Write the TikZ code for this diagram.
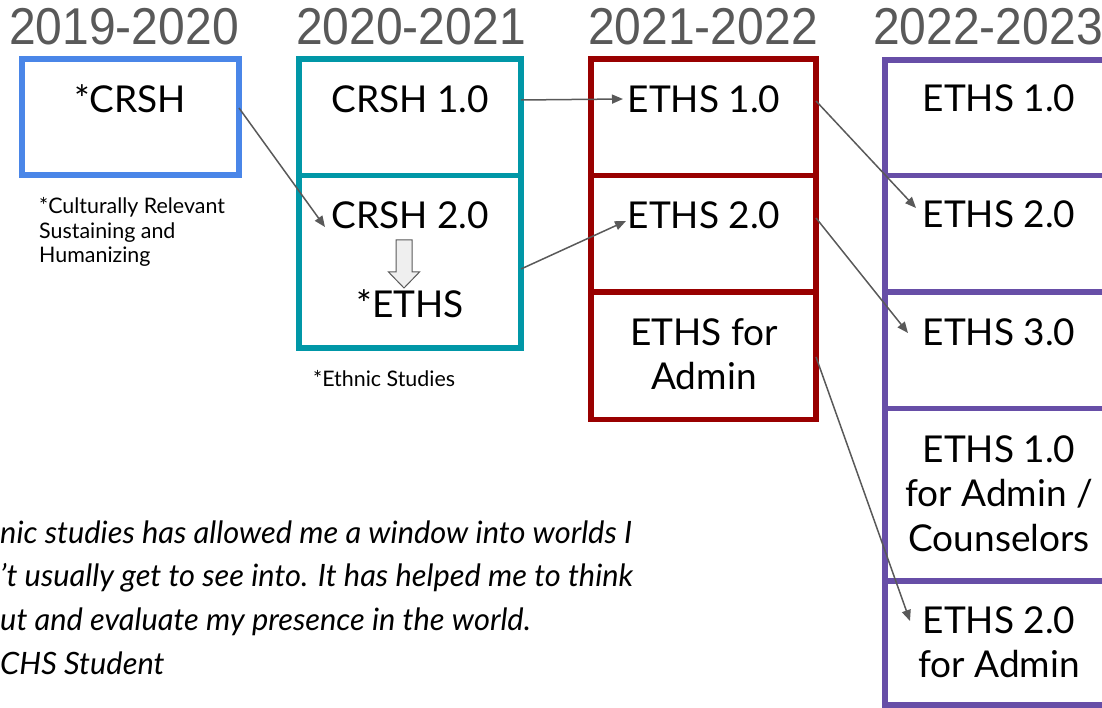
\documentclass[tikz,border=0pt]{standalone}
\usepackage{fontspec}
\setmainfont{Lato}
\newfontfamily\headfont{Liberation Sans}
\usetikzlibrary{arrows.meta}
\definecolor{cblue}{HTML}{4A86E8}
\definecolor{cteal}{HTML}{0097A7}
\definecolor{cred}{HTML}{990000}
\definecolor{cpurple}{HTML}{674EA7}
\definecolor{cgray}{HTML}{595959}
\definecolor{cfill}{HTML}{EFEFEF}
\begin{document}
\begin{tikzpicture}[x=1pt,y=-1pt,
  cellbox/.style={draw, line width=5.5pt, outer sep=0pt, inner sep=0pt},
  bluecell/.style={cellbox, draw=cblue, minimum width=217pt},
  tealcell/.style={cellbox, draw=cteal, minimum width=222pt},
  redcell/.style={cellbox, draw=cred, minimum width=225pt},
  purplecell/.style={cellbox, draw=cpurple, minimum width=228pt},
  big/.style={font=\fontsize{37}{44.5}\selectfont, inner sep=0pt, anchor=base},
  head/.style={font=\headfont\fontsize{48}{56}\selectfont, text=cgray, inner sep=0pt, anchor=base},
  note/.style={font=\fontsize{21.4}{24.5}\selectfont, inner sep=0pt, anchor=base west},
  quotetext/.style={font=\itshape\fontsize{30.8}{43.7}\selectfont, inner sep=0pt, anchor=base west},
  conn/.style={draw=cgray, line width=1.5pt, -{Triangle[length=11pt,width=9pt]}}
]
\useasboundingbox (0,0) rectangle (1102,708);
\clip (0,0) rectangle (1102,708);

% headings
\node[head] (h1) at (124,45) {\scalebox{1}[1.08]{2019-2020}};
\node[head] (h2) at (411,45) {\scalebox{1}[1.08]{2020-2021}};
\node[head] (h3) at (703,45) {\scalebox{1}[1.08]{2021-2022}};
\node[head] (h4) at (988,45) {\scalebox{1}[1.08]{2022-2023}};

% boxes
\node[bluecell, minimum height=116pt] (blue) at (130.5,117) {};
\node[tealcell, minimum height=116.5pt] (teal1) at (410,117.25) {};
\node[tealcell, minimum height=172.5pt] (teal2) at (410,261.75) {};
\node[redcell, minimum height=116.5pt] (red1) at (703.5,117.25) {};
\node[redcell, minimum height=116.5pt] (red2) at (703.5,233.75) {};
\node[redcell, minimum height=127.5pt] (red3) at (703.5,355.75) {};
\node[purplecell, minimum height=115.5pt] (p1) at (999,117.75) {};
\node[purplecell, minimum height=116.5pt] (p2) at (999,233.75) {};
\node[purplecell, minimum height=116.5pt] (p3) at (999,350.25) {};
\node[purplecell, minimum height=172.5pt] (p4) at (999,494.75) {};
\node[purplecell, minimum height=124pt] (p5) at (999,643) {};

% box texts
\node[big] (tcrsh) at (130,113) {*CRSH};
\node[big] (tcrsh1) at (410,113) {CRSH 1.0};
\node[big] (tcrsh2) at (410,229) {CRSH 2.0};
\node[big] (tstar) at (410,318) {*ETHS};
\node[big] (tr1) at (704,113) {ETHS 1.0};
\node[big] (tr2) at (704,229) {ETHS 2.0};
\node[big] (tr3) at (704,345) {\begin{tabular}[t]{@{}c@{}}ETHS for\\Admin\end{tabular}};
\node[big] (tp1) at (999,112) {ETHS 1.0};
\node[big] (tp2) at (999,228) {ETHS 2.0};
\node[big] (tp3) at (999,345) {ETHS 3.0};
\node[big] (tp4) at (999,462) {\begin{tabular}[t]{@{}c@{}}ETHS 1.0\\for Admin /\\Counselors\end{tabular}};
\node[big] (tp5) at (999,633) {\begin{tabular}[t]{@{}c@{}}ETHS 2.0\\for Admin\end{tabular}};

% hollow down arrow
\draw[draw=cgray, fill=cfill, line width=1pt, line join=miter]
  (396,240) -- (412,240) -- (412,272) -- (419.5,272) -- (404,288)
  -- (388.5,272) -- (396,272) -- cycle;

% notes
\node[note] (n1) at (39,214) {\begin{tabular}[t]{@{}l@{}}*Culturally Relevant\\Sustaining and\\Humanizing\end{tabular}};
\node[note] (n2) at (313,386) {*Ethnic Studies};

% quote
\node[quotetext] (q) at (0,543) {\begin{tabular}[t]{@{}l@{}}nic studies has allowed me a window into worlds I\\’t usually get to see into. It has helped me to think\\ut and evaluate my presence in the world.\\CHS Student\end{tabular}};

% connectors
\draw[conn] ([yshift=9pt]blue.east) -- ([xshift=26pt,yshift=34.75pt]teal2.west);
\draw[conn] ([yshift=17.25pt]teal1.east) -- ([xshift=32pt,yshift=18.25pt]red1.west);
\draw[conn] ([yshift=-7.25pt]teal2.east) -- ([xshift=35pt,yshift=12.75pt]red2.west);
\draw[conn] ([yshift=16.25pt]red1.east) -- ([xshift=31pt,yshift=25.75pt]p2.west);
\draw[conn] ([yshift=15.75pt]red2.east) -- ([xshift=23pt,yshift=17.25pt]p3.west);
\draw[conn] ([yshift=-1.25pt]red3.east) -- ([xshift=25pt,yshift=22pt]p5.west);
\end{tikzpicture}
\end{document}
